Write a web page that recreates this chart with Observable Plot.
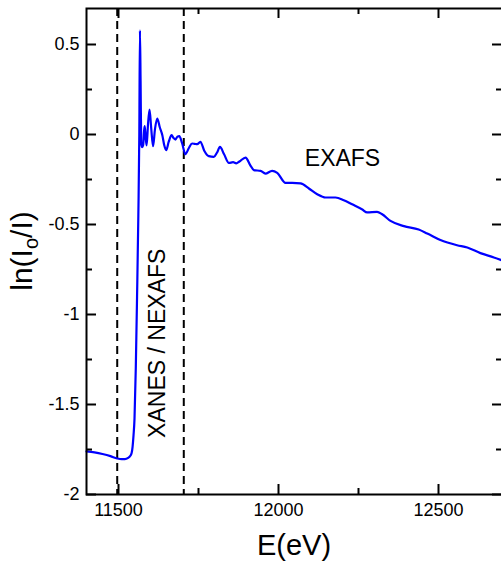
<!DOCTYPE html>
<html><head><meta charset="utf-8">
<style>
html,body{margin:0;padding:0;overflow:hidden;background:#fff;width:501px;height:562px;}
</style>
<script src="https://cdn.jsdelivr.net/npm/d3@7"></script>
<script src="https://cdn.jsdelivr.net/npm/@observablehq/plot@0.6"></script>
</head><body><div id="chart"></div>
<script>
// Energy (eV) and absorbance ln(Io/I)
const energy = [11400, 11425, 11450, 11475, 11496, 11510, 11520, 11530, 11537, 11541, 11544, 11547, 11550, 11554, 11558, 11562, 11565, 11567, 11569, 11571, 11574, 11577, 11580, 11582, 11585, 11588, 11592, 11597, 11602, 11608, 11614, 11621, 11629, 11637, 11643, 11649, 11657, 11666, 11672, 11678, 11684, 11690, 11699, 11709, 11720, 11730, 11738, 11746, 11756, 11768, 11782, 11798, 11808, 11817, 11830, 11845, 11858, 11868, 11878, 11897, 11912, 11923, 11944, 11959, 11980, 11996, 12022, 12043, 12069, 12095, 12121, 12147, 12178, 12204, 12230, 12262, 12277, 12308, 12324, 12350, 12392, 12438, 12465, 12506, 12558, 12590, 12631, 12673, 12700];
const absorbance = [-1.760, -1.766, -1.775, -1.787, -1.800, -1.804, -1.804, -1.797, -1.785, -1.770, -1.735, -1.670, -1.580, -1.300, -0.900, -0.450, 0.000, 0.578, 0.300, -0.050, -0.070, -0.060, 0.020, 0.046, -0.020, -0.060, 0.050, 0.139, 0.040, -0.065, 0.030, 0.089, 0.040, -0.004, -0.060, -0.087, -0.040, -0.004, -0.020, -0.028, -0.012, -0.009, -0.050, -0.109, -0.075, -0.050, -0.052, -0.054, -0.041, -0.090, -0.120, -0.124, -0.100, -0.069, -0.110, -0.158, -0.154, -0.160, -0.150, -0.128, -0.171, -0.198, -0.202, -0.217, -0.202, -0.213, -0.269, -0.269, -0.272, -0.300, -0.332, -0.350, -0.350, -0.365, -0.388, -0.417, -0.433, -0.430, -0.443, -0.480, -0.509, -0.528, -0.550, -0.586, -0.615, -0.628, -0.659, -0.683, -0.700];

const edgeLines = [11496, 11704];
const xMajorTicks = [11500, 12000, 12500];
const xTickLabels = ["11500", "12000", "12500"];
const xMinorTicks = [11750, 12250];
const yMajorTicks = [-2, -1.5, -1, -0.5, 0, 0.5];
const yTickLabels = ["-2", "-1.5", "-1", "-0.5", "0", "0.5"];
const yMinorTicks = [-1.75, -1.25, -0.75, -0.25, 0.25];
const regionNames = ["XANES / NEXAFS", "EXAFS"];
const regionE = [11623, 12200];
const regionV = [-1.16, -0.134];
const regionRotate = [-90, 0];

const rows = energy.map((e, i) => ({e, v: absorbance[i]}));
const regions = regionNames.map((t, i) => ({t, e: regionE[i], v: regionV[i], r: regionRotate[i]}));
const font = "'Liberation Sans', Arial, Helvetica, sans-serif";

const W = 504, H = 562, ML = 86, MR = 2, MT = 8, MB = 68;
const PW = W - ML - MR, PH = H - MT - MB;
const MAJ = 10, MIN = 6;
const tk = {stroke: "#000", strokeWidth: 2};

const plot = Plot.plot({
  width: W, height: H,
  marginLeft: ML, marginRight: MR, marginTop: MT, marginBottom: MB,
  style: {fontFamily: font, fontSize: "18px", color: "#000", background: "#fff", overflow: "visible", maxWidth: "none", height: H + "px"},
  x: {domain: [11400, 12700]},
  y: {domain: [-2, 0.7]},
  marks: [
    Plot.ruleX(edgeLines, {stroke: "#000", strokeWidth: 2, strokeDasharray: "8,5"}),
    Plot.line(rows, {x: "e", y: "v", stroke: "#0000ff", strokeWidth: 2.2, curve: "monotone-x"}),
    Plot.text(regions, {x: "e", y: "v", text: "t", rotate: "r", fontSize: 23, fill: "#000", textAnchor: "middle", lineAnchor: "middle"}),
    // tick labels
    Plot.axisX(xMajorTicks, {anchor: "bottom", tickSize: 0, tickPadding: 9, tickFormat: d => xTickLabels[xMajorTicks.indexOf(d)], label: null, fontSize: 18, fill: "#000"}),
    Plot.axisY(yMajorTicks, {anchor: "left", tickSize: 0, tickPadding: 7, tickFormat: d => yTickLabels[yMajorTicks.indexOf(d)], label: null, fontSize: 18, fill: "#000"}),
    // inward ticks on all four sides
    Plot.tickX(xMajorTicks, {...tk, insetTop: PH - MAJ}),
    Plot.tickX(xMinorTicks, {...tk, insetTop: PH - MIN}),
    Plot.tickX(xMajorTicks, {...tk, insetBottom: PH - MAJ}),
    Plot.tickX(xMinorTicks, {...tk, insetBottom: PH - MIN}),
    Plot.tickY(yMajorTicks, {...tk, insetRight: PW - MAJ}),
    Plot.tickY(yMinorTicks, {...tk, insetRight: PW - MIN}),
    Plot.tickY(yMajorTicks, {...tk, insetLeft: PW - MAJ}),
    Plot.tickY(yMinorTicks, {...tk, insetLeft: PW - MIN}),
    Plot.frame({stroke: "#000", strokeWidth: 2})
  ]
});

const svg = d3.select(plot);
// x axis title
svg.append("text")
  .attr("x", (ML + (W - MR)) / 2).attr("y", 555)
  .attr("text-anchor", "middle")
  .style("font-family", font).style("font-size", "29px").attr("fill", "#000")
  .text("E(eV)");
// y axis title with subscript
const yl = svg.append("text")
  .attr("transform", `translate(32, ${(MT + (H - MB)) / 2}) rotate(-90)`)
  .attr("text-anchor", "middle")
  .style("font-family", font).style("font-size", "30px").attr("fill", "#000");
yl.append("tspan").text("ln(I");
yl.append("tspan").style("font-size", "20px").attr("dy", 6).text("o");
yl.append("tspan").attr("dy", -6).text("/I)");

document.getElementById("chart").appendChild(plot);
</script>
</body></html>
